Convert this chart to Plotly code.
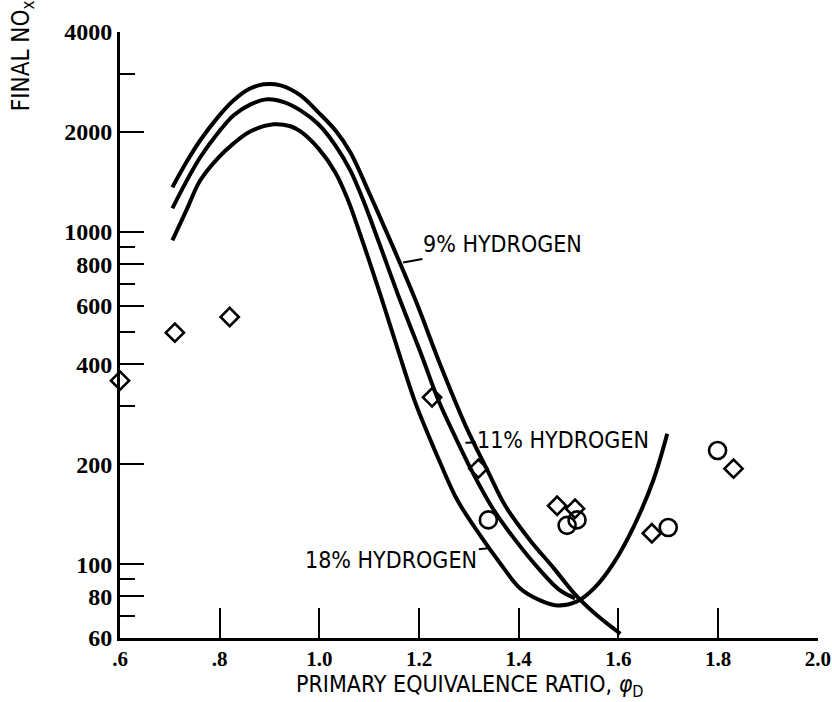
import plotly.graph_objects as go
import math

# ---- data ----
x_h9 = [0.705, 0.733, 0.761, 0.796, 0.828, 0.858, 0.888, 0.922, 0.962, 0.998, 1.032, 1.062, 1.102, 1.142,
        1.193, 1.243, 1.293, 1.337, 1.373, 1.423, 1.469, 1.513, 1.557, 1.604]
y_h9 = [1363, 1621, 1889, 2214, 2492, 2689, 2783, 2764, 2579, 2292, 2024, 1738, 1290, 944,
        623, 397, 262, 192, 150, 118, 97.9, 81.2, 70.2, 61.8]

x_h11 = [0.705, 0.733, 0.761, 0.796, 0.828, 0.862, 0.896, 0.930, 0.962, 0.998, 1.032, 1.062, 1.088, 1.118,
         1.162, 1.203, 1.239, 1.273, 1.305, 1.347, 1.389, 1.443, 1.483, 1.513]
y_h11 = [1178, 1421, 1679, 1982, 2245, 2423, 2509, 2457, 2324, 2110, 1824, 1534, 1246, 944,
         623, 434, 311, 241, 192, 148, 120.5, 95.9, 83.4, 79.0]

x_h18 = [0.705, 0.733, 0.761, 0.796, 0.828, 0.862, 0.908, 0.942, 0.962, 0.998, 1.032, 1.056, 1.086, 1.126,
         1.158, 1.191, 1.219, 1.243, 1.277, 1.323, 1.363, 1.403, 1.443, 1.477, 1.517, 1.553, 1.590, 1.630,
         1.670, 1.698]
y_h18 = [944, 1162, 1431, 1667, 1849, 2010, 2110, 2081, 2010, 1786, 1512, 1263, 944, 623,
         440, 311, 244, 201, 155.8, 122, 100.6, 84.6, 77.9, 75.2, 77.3, 85.2, 100.6, 129.2,
         179, 247]

x_diamond = [0.600, 0.710, 0.820, 1.226, 1.319, 1.477, 1.513, 1.667, 1.831]
y_diamond = [357, 498, 555, 318, 194, 150, 147, 124, 194]

x_circle = [1.339, 1.497, 1.517, 1.700, 1.799]
y_circle = [136, 131, 136, 129, 220]

x_tickvals = [0.6, 0.8, 1.0, 1.2, 1.4, 1.6, 1.8, 2.0]
x_ticktext = [".6", ".8", "1.0", "1.2", "1.4", "1.6", "1.8", "2.0"]
y_major = [60, 80, 100, 200, 400, 600, 800, 1000, 2000, 4000]
y_major_text = ["60", "80", "100", "200", "400", "600", "800", "1000", "2000", "4000"]
y_minor = [70, 90, 300, 500, 700, 900, 3000]

NARROW = "Liberation Sans Narrow, DejaVu Sans Condensed, Arial Narrow, sans-serif"
YTICKFONT = dict(family="Liberation Serif, DejaVu Serif, serif", size=24, color="black", weight="bold")
XTICKFONT = dict(family="Liberation Serif, DejaVu Serif, serif", size=21, color="black", weight="bold")

fig = go.Figure()
for xs, ys in [(x_h9, y_h9), (x_h11, y_h11), (x_h18, y_h18)]:
    fig.add_trace(go.Scatter(x=xs, y=ys, mode="lines",
                             line=dict(color="black", width=4, shape="spline", smoothing=1.0),
                             showlegend=False, hoverinfo="skip"))
fig.add_trace(go.Scatter(x=x_diamond, y=y_diamond, mode="markers",
                         marker=dict(symbol="diamond-open", size=14, color="black", line=dict(width=2.6, color="black")),
                         showlegend=False, cliponaxis=False))
fig.add_trace(go.Scatter(x=x_circle, y=y_circle, mode="markers",
                         marker=dict(symbol="circle-open", size=17, color="black", line=dict(width=2.6, color="black")),
                         showlegend=False, cliponaxis=False))

lab_font = dict(family=NARROW, size=23, color="black")
# curve labels with leader lines
fig.add_annotation(x=1.168, y=math.log10(810), text="9% HYDROGEN", showarrow=True,
                   arrowhead=0, arrowwidth=2, arrowcolor="black", ax=99, ay=-18, font=lab_font)
fig.add_annotation(x=1.293, y=math.log10(232), text="11% HYDROGEN", showarrow=True,
                   arrowhead=0, arrowwidth=2, arrowcolor="black", ax=98, ay=-3, font=lab_font)
fig.add_annotation(x=1.343, y=math.log10(112), text="18% HYDROGEN", showarrow=True,
                   arrowhead=0, arrowwidth=2, arrowcolor="black", ax=-99, ay=12, font=lab_font)

# axis titles
fig.add_annotation(xref="paper", yref="paper", x=0.50, y=-0.079, xanchor="center", yanchor="middle",
                   text="PRIMARY EQUIVALENCE RATIO, <i>φ</i><sub>D</sub>", showarrow=False,
                   font=dict(family=NARROW, size=23, color="black"))
fig.add_annotation(xref="paper", yref="paper", x=-0.1404, y=0.96, xanchor="center", yanchor="middle",
                   text="FINAL NO<sub>x</sub>", textangle=-90, showarrow=False,
                   font=dict(family=NARROW, size=24, color="black"))

fig.update_layout(
    width=832, height=702,
    margin=dict(l=120, r=14, t=32, b=64, autoexpand=False),
    paper_bgcolor="white", plot_bgcolor="white",
    xaxis=dict(range=[0.5999, 2.0005], showline=True, linecolor="black", linewidth=3,
               ticks="inside", ticklen=30, tickwidth=2, tickcolor="black",
               tickvals=x_tickvals, ticktext=x_ticktext, tickfont=XTICKFONT,
               ticklabeloverflow="allow", automargin=False,
               showgrid=False, zeroline=False),
    yaxis=dict(type="log", range=[math.log10(60), math.log10(4000)], showline=True,
               linecolor="black", linewidth=3, automargin=False,
               ticks="inside", ticklen=24, tickwidth=2, tickcolor="black",
               tickvals=y_major, ticktext=y_major_text, tickfont=YTICKFONT,
               minor=dict(tickmode="array", tickvals=y_minor, ticks="inside",
                          ticklen=15, tickwidth=2, tickcolor="black", showgrid=False),
               showgrid=False, zeroline=False),
)
fig.write_html("out.html")
